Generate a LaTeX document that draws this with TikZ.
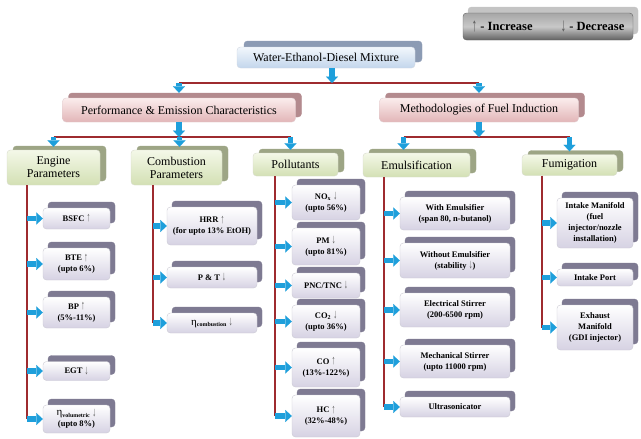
\documentclass[tikz,border=0pt]{standalone}
\usepackage{fontspec}
\usepackage{graphicx}
\setmainfont{Liberation Serif}
\usetikzlibrary{arrows.meta,shadows}
\definecolor{redln}{HTML}{9E2B2F}
\definecolor{blu}{HTML}{1E9FDB}
\definecolor{tTop}{HTML}{F2F7FC}\definecolor{tBot}{HTML}{C3D6EC}\definecolor{tBk}{HTML}{8C9BB4}
\definecolor{pTop}{HTML}{FBEDED}\definecolor{pBot}{HTML}{E2B5B7}\definecolor{pBk}{HTML}{B38A8E}
\definecolor{gTop}{HTML}{F4F8E8}\definecolor{gBot}{HTML}{D3E0B4}\definecolor{gBk}{HTML}{9DA585}
\definecolor{lTop}{HTML}{FFFFFF}\definecolor{lBot}{HTML}{D6D2E3}\definecolor{lBk}{HTML}{7E7A92}
\definecolor{kTop}{HTML}{A6A6A6}\definecolor{kMid}{HTML}{C8C8C8}\definecolor{kBot}{HTML}{626262}\definecolor{kBk}{HTML}{C4C4C4}
\newcommand\myup{\textcolor{black!65}{\raisebox{-0.15ex}{\scalebox{0.9}[1.5]{↑}}}}
\newcommand\mydn{\textcolor{black!65}{\raisebox{-0.15ex}{\scalebox{0.9}[1.5]{↓}}}}
\begin{document}
\begin{tikzpicture}[x=1pt,y=-1pt,
  basebox/.style={rounded corners=3.5pt, align=center, inner sep=1pt, text=black},
  titlebox/.style={basebox, top color=tTop, bottom color=tBot, draw=tBk!40,
     copy shadow={shadow xshift=7pt, shadow yshift=6pt, fill=tBk, draw=tBk},
     font=\fontsize{12}{13}\selectfont},
  pinkbox/.style={basebox, top color=pTop, bottom color=pBot, draw=pBk!40,
     copy shadow={shadow xshift=6pt, shadow yshift=5pt, fill=pBk, draw=pBk},
     font=\fontsize{12}{13}\selectfont},
  greenbox/.style={basebox, top color=gTop, bottom color=gBot, draw=gBk!40,
     copy shadow={shadow xshift=6pt, shadow yshift=4pt, fill=gBk, draw=gBk},
     font=\fontsize{12}{13}\selectfont},
  leaf/.style={basebox, top color=lTop, bottom color=lBot, draw=lBk!40,
     copy shadow={shadow xshift=5pt, shadow yshift=6pt, fill=lBk, draw=lBk},
     font=\bfseries\fontsize{8.5}{11}\selectfont},
  legendbox/.style={basebox, top color=kTop, bottom color=kBot, middle color=kMid, draw=kBot,
     copy shadow={shadow xshift=5pt, shadow yshift=6pt, fill=kBk, draw=kBk},
     font=\bfseries\fontsize{12.5}{13}\selectfont},
  redline/.style={draw=redln, line width=1.8pt},
  barr/.style={draw=blu, line width=5.5pt, -{Triangle[length=6.5pt,width=12pt,line width=0.1pt]}},
]
\useasboundingbox (0,0) rectangle (641,439);

% legend
\node[legendbox, minimum width=170pt, minimum height=27pt] (legend) at (548,26.5)
  {\myup\ - Increase\hspace{28pt}\mydn\ - Decrease};

% top levels
\node[titlebox, minimum width=178pt, minimum height=21pt] (title) at (326,57.5) {Water-Ethanol-Diesel Mixture};
\node[pinkbox, minimum width=233pt, minimum height=24pt] (pec) at (179,110) {Performance \& Emission Characteristics};
\node[pinkbox, minimum width=199pt, minimum height=24pt] (mfi) at (479,110) {Methodologies of Fuel Induction};

\node[greenbox, minimum width=93pt, minimum height=35pt] (engine) at (53.5,167.5) {Engine\\Parameters};
\node[greenbox, minimum width=91pt, minimum height=35pt] (comb) at (176.5,167.5) {Combustion\\Parameters};
\node[greenbox, minimum width=85pt, minimum height=23pt] (poll) at (295.5,164.5) {Pollutants};
\node[greenbox, minimum width=107pt, minimum height=24pt] (emul) at (416.5,165) {Emulsification};
\node[greenbox, minimum width=95pt, minimum height=21pt] (fum) at (569.5,165) {Fumigation};

% leaves: engine parameters
\node[leaf, minimum width=67pt, minimum height=21pt] (bsfc) at (76.5,218.5) {BSFC \myup};
\node[leaf, minimum width=67pt, minimum height=32pt] (bte) at (76.5,264) {BTE \myup\\(upto 6\%)};
\node[leaf, minimum width=67pt, minimum height=31pt] (bp) at (76.5,312.5) {BP \myup\\(5\%-11\%)};
\node[leaf, minimum width=67pt, minimum height=19pt] (egt) at (76.5,371) {EGT \mydn};
\node[leaf, minimum width=67pt, minimum height=28pt] (etavol) at (76.5,419) {{\mdseries\fontsize{11}{11}\selectfont η}\textsubscript{volumetric} \mydn\\(upto 8\%)};

% leaves: combustion parameters
\node[leaf, minimum width=90pt, minimum height=38pt] (hrr) at (212,226) {HRR \myup\\(for upto 13\% EtOH)};
\node[leaf, minimum width=90pt, minimum height=21pt] (pt) at (212,277.5) {P \& T \mydn};
\node[leaf, minimum width=90pt, minimum height=20pt] (etacomb) at (212,323) {{\mdseries\fontsize{11}{11}\selectfont η}\textsubscript{combustion} \mydn};

% leaves: pollutants
\node[leaf, minimum width=68pt, minimum height=35pt] (nox) at (326,202.5) {NO\textsubscript{x} \mydn\\(upto 56\%)};
\node[leaf, minimum width=68pt, minimum height=37pt] (pm) at (326,246.5) {PM \mydn\\(upto 81\%)};
\node[leaf, minimum width=68pt, minimum height=25pt] (pnc) at (326,285.5) {PNC/TNC \mydn};
\node[leaf, minimum width=68pt, minimum height=33pt] (co2) at (326,321.5) {CO\textsubscript{2} \mydn\\(upto 36\%)};
\node[leaf, minimum width=68pt, minimum height=39pt] (co) at (326,367.5) {CO \myup\\(13\%-122\%)};
\node[leaf, minimum width=68pt, minimum height=42pt] (hc) at (326,416) {HC \myup\\(32\%-48\%)};

% leaves: emulsification
\node[leaf, minimum width=110pt, minimum height=33pt] (withe) at (455,213.5) {With Emulsifier\\(span 80, n-butanol)};
\node[leaf, minimum width=110pt, minimum height=35pt] (woe) at (455,260.5) {Without Emulsifier\\(stability \mydn)};
\node[leaf, minimum width=110pt, minimum height=34pt] (elec) at (455,310) {Electrical Stirrer\\(200-6500 rpm)};
\node[leaf, minimum width=110pt, minimum height=33pt] (mech) at (455,361.5) {Mechanical Stirrer\\(upto 11000 rpm)};
\node[leaf, minimum width=110pt, minimum height=20pt] (ultra) at (455,407) {Ultrasonicator};

% leaves: fumigation
\node[leaf, minimum width=76pt, minimum height=50pt] (inman) at (595,223) {Intake Manifold\\(fuel\\injector/nozzle\\installation)};
\node[leaf, minimum width=76pt, minimum height=17pt] (inport) at (595,277.5) {Intake Port};
\node[leaf, minimum width=76pt, minimum height=45pt] (exman) at (595,327.5) {Exhaust\\Manifold\\(GDI injector)};

% level lines
\coordinate (L1) at (0,83);
\coordinate (L2) at (0,137);
\draw[redline] (pec.north |- L1) -- (mfi.north |- L1);
\draw[barr] ([xshift=6pt]title.south) -- ([xshift=6pt]title.south |- L1);
\draw[barr, shorten >=5pt] (pec.north |- L1) -- (pec.north);
\draw[barr, shorten >=5pt] (mfi.north |- L1) -- (mfi.north);

\draw[redline] (engine.north |- L2) -- ([xshift=-5pt]poll.north |- L2);
\draw[redline] ([xshift=-13pt]emul.north |- L2) -- (fum.north |- L2);
\draw[barr] (pec.south) -- (pec.south |- L2);
\draw[barr] (mfi.south) -- (mfi.south |- L2);
\draw[barr, shorten >=3pt] (engine.north |- L2) -- (engine.north);
\draw[barr, shorten >=3pt] ([xshift=3pt]comb.north |- L2) -- ([xshift=3pt]comb.north);
\draw[barr, shorten >=3pt] ([xshift=-5pt]poll.north |- L2) -- ([xshift=-5pt]poll.north);
\draw[barr, shorten >=3pt] ([xshift=-13pt]emul.north |- L2) -- ([xshift=-13pt]emul.north);
\draw[barr, shorten >=3pt] (fum.north |- L2) -- (fum.north);

% column lines
\coordinate (ec) at ([xshift=20pt]engine.south west);
\coordinate (cc) at ([xshift=22pt]comb.south west);
\coordinate (pc) at ([xshift=22pt]poll.south west);
\coordinate (mc) at ([xshift=21pt]emul.south west);
\coordinate (fc) at ([xshift=20pt]fum.south west);
\draw[redline] (ec) -- (ec |- etavol.west);
\draw[redline] (cc) -- (cc |- etacomb.west);
\draw[redline] (pc) -- (pc |- hc.west);
\draw[redline] (mc) -- (mc |- ultra.west);
\draw[redline] (fc) -- (fc |- exman.west);

\foreach \n in {bsfc,bte,bp,egt,etavol}{\draw[barr] (ec |- \n.west) -- (\n.west);}
\foreach \n in {hrr,pt,etacomb}{\draw[barr] (cc |- \n.west) -- (\n.west);}
\foreach \n in {nox,pm,pnc,co2,co,hc}{\draw[barr] (pc |- \n.west) -- (\n.west);}
\foreach \n in {withe,woe,elec,mech,ultra}{\draw[barr] (mc |- \n.west) -- (\n.west);}
\foreach \n in {inman,inport,exman}{\draw[barr] (fc |- \n.west) -- (\n.west);}
\end{tikzpicture}
\end{document}
